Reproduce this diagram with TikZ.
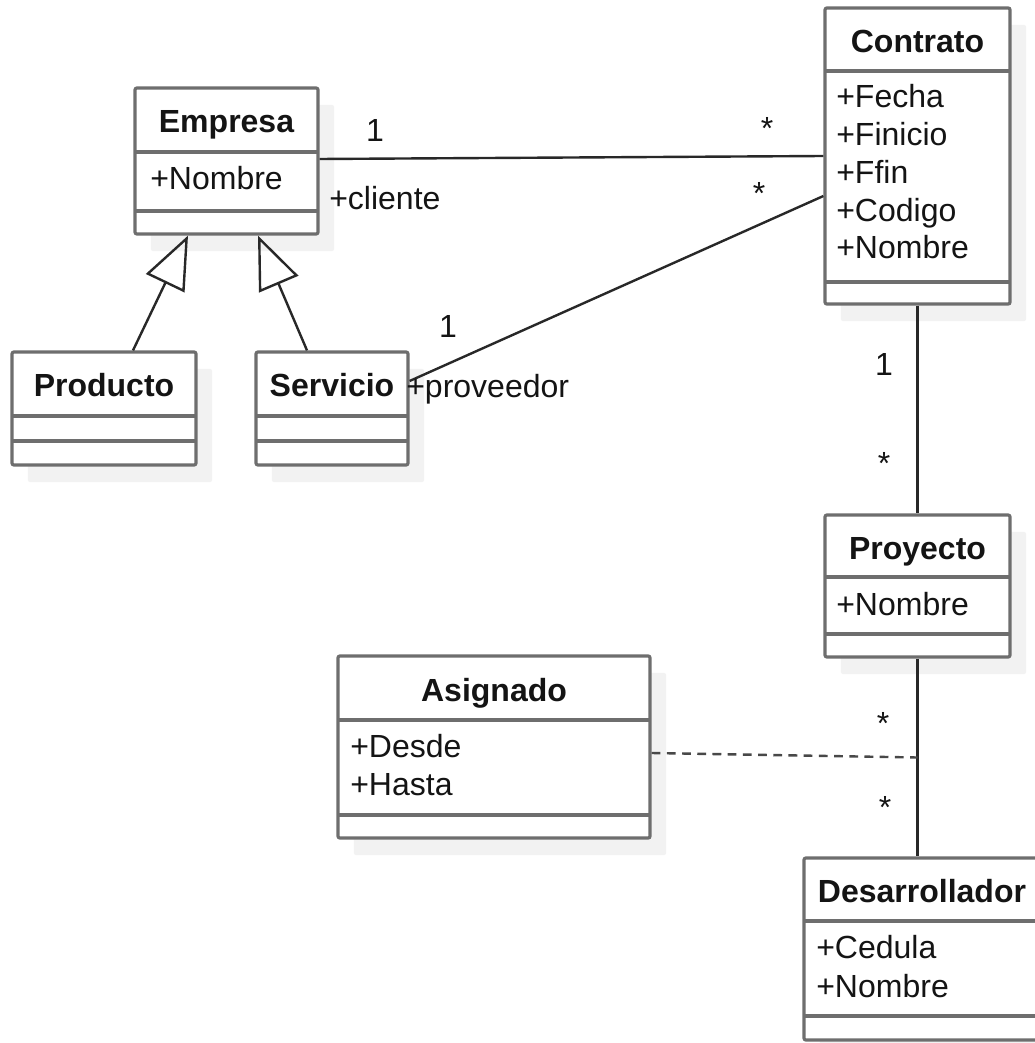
\documentclass[tikz,border=0pt]{standalone}
\usepackage{fontspec}
\setmainfont{Liberation Sans}
\usetikzlibrary{positioning,arrows.meta,calc,shadows}
\definecolor{boxgray}{RGB}{110,110,110}
\definecolor{linec}{RGB}{40,40,40}
\definecolor{txt}{RGB}{20,20,20}
\tikzset{
  cls/.style={draw=boxgray,line width=0.08cm,fill=white,rounded corners=0.05cm,inner sep=0pt,
    general shadow={fill=black!5,shadow xshift=0.4cm,shadow yshift=-0.425cm}},
  cmpt/.style={draw=boxgray,line width=0.08cm},
  ttl/.style={font=\fontsize{22.76}{27}\selectfont\bfseries,anchor=base,inner sep=0pt,text=txt},
  attr/.style={anchor=base west,inner sep=0pt,text=txt},
  mult/.style={anchor=base,inner sep=0pt,text=txt},
  assoc/.style={line width=0.06cm,draw=linec},
  gen/.style={line width=0.06cm,draw=linec,-{Triangle[open,length=1.32cm,width=1.06cm]}},
  dep/.style={line width=0.06cm,draw=linec!85,dash pattern=on 0.22cm off 0.16cm},
}

\begin{document}
\begin{tikzpicture}[x=0.025cm,y=-0.025cm,font=\fontsize{22.76}{27}\selectfont]
  \path[use as bounding box,fill=white] (0,0) rectangle (1034,1043);
  % class boxes
  \node[cls,minimum width=4.575cm,minimum height=3.65cm] (emp) at (226.5,161) {};
  \node[cls,minimum width=4.625cm,minimum height=7.4cm] (con) at (917.5,156) {};
  \node[cls,minimum width=4.6cm,minimum height=2.825cm] (prod) at (104,408.5) {};
  \node[cls,minimum width=3.8cm,minimum height=2.825cm] (serv) at (332,408.5) {};
  \node[cls,minimum width=4.625cm,minimum height=3.55cm] (proy) at (917.5,586) {};
  \node[cls,minimum width=7.8cm,minimum height=4.55cm] (asig) at (494,747) {};
  \node[cls,minimum width=5.9cm,minimum height=4.55cm] (des) at (922,949) {};
  % compartments
  \draw[cmpt] (135,152) -- (318,152) (135,211) -- (318,211);
  \draw[cmpt] (825,71) -- (1010,71) (825,282) -- (1010,282);
  \draw[cmpt] (12,416) -- (196,416) (12,441) -- (196,441);
  \draw[cmpt] (256,416) -- (408,416) (256,441) -- (408,441);
  \draw[cmpt] (825,577) -- (1010,577) (825,634) -- (1010,634);
  \draw[cmpt] (338,720) -- (650,720) (338,815) -- (650,815);
  \draw[cmpt] (804,921) -- (1040,921) (804,1016) -- (1040,1016);
  % titles and attributes
  \node[ttl] (empT) at (226.5,133) {Empresa};
  \node[attr] (empA) at (150,190) {+Nombre};
  \node[ttl] (conT) at (917.5,53) {Contrato};
  \foreach \a [count=\i] in {Fecha,Finicio,Ffin,Codigo,Nombre}
    \node[attr] (conA\i) at (836,70.3+37.7*\i) {+\a};
  \node[ttl] (prodT) at (104,396) {Producto};
  \node[ttl] (servT) at (332,396) {Servicio};
  \node[ttl] (proyT) at (917.5,559) {Proyecto};
  \node[attr] (proyA) at (836,615) {+Nombre};
  \node[ttl] (asigT) at (494,701) {Asignado};
  \node[attr] (asigA1) at (350,757) {+Desde};
  \node[attr] (asigA2) at (350,795) {+Hasta};
  \node[ttl] (desT) at (922,902) {Desarrollador};
  \node[attr] (desA1) at (816,958) {+Cedula};
  \node[attr] (desA2) at (816,997) {+Nombre};
  % associations
  \draw[assoc] ([yshift=0.05cm]emp.east) -- (con.west);
  \draw[assoc] ([yshift=0.6875cm]serv.east) -- ([yshift=-1cm]con.west);
  \draw[assoc] (con.south) -- (proy.north);
  \draw[assoc] (proy.south) -- (proy.south |- des.north);
  \coordinate (asc) at ($(proy.south)!0.5!(proy.south |- des.north)$);
  \draw[dep] ([yshift=-0.15cm]asig.east) -- (asc);
  % generalization
  \draw[gen] ([xshift=0.725cm]prod.north) -- ([xshift=-0.9625cm]emp.south);
  \draw[gen] ([xshift=-0.625cm]serv.north) -- ([xshift=0.7875cm]emp.south);
  % roles and multiplicities
  \node[mult] (m1) at (375,142) {1};
  \node[mult] (m2) at (767,140) {*};
  \node[attr] (rc) at (329,210) {+cliente};
  \node[mult] (m3) at (448,337) {1};
  \node[mult] (m4) at (759,205) {*};
  \node[attr] (rp) at (406,397) {+proveedor};
  \node[mult] (m5) at (884,375) {1};
  \node[mult] (m6) at (884,474) {*};
  \node[mult] (m7) at (883,734) {*};
  \node[mult] (m8) at (885,818) {*};
\end{tikzpicture}
\end{document}
